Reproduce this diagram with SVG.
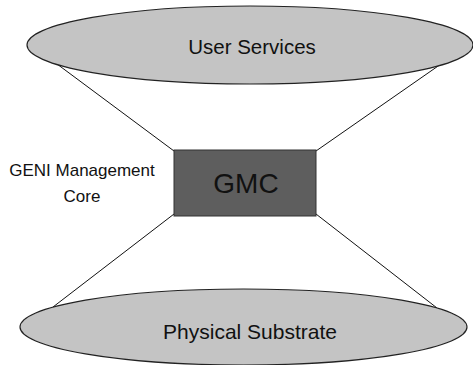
<svg xmlns="http://www.w3.org/2000/svg" width="473" height="365" viewBox="0 0 473 365">
<style>
.ell{fill:#c4c4c4;stroke:#222;stroke-width:1.2}
.box{fill:#5e5e5e;stroke:#333;stroke-width:1}
.con{stroke:#111;stroke-width:1;fill:none}
text{font-family:"Liberation Sans",Arial,sans-serif;fill:#111}
</style>
<rect width="473" height="365" fill="#fff"/>
<g id="connectors">
<line class="con" x1="57" y1="64" x2="174" y2="151"/>
<line class="con" x1="441" y1="64" x2="316" y2="151"/>
<line class="con" x1="174" y1="214" x2="53" y2="307"/>
<line class="con" x1="316" y1="214" x2="437" y2="308"/>
</g>
<g id="user-services">
<ellipse class="ell" cx="250" cy="45" rx="223" ry="39"/>
<text x="252" y="54" font-size="20.5" text-anchor="middle">User Services</text>
</g>
<g id="gmc">
<rect class="box" x="174" y="150" width="142" height="66"/>
<text x="246" y="193" font-size="28" text-anchor="middle">GMC</text>
</g>
<g id="gmc-label">
<text x="82" y="176" font-size="17" text-anchor="middle">GENI Management</text>
<text x="82" y="202" font-size="17" text-anchor="middle">Core</text>
</g>
<g id="physical-substrate">
<ellipse class="ell" cx="243.5" cy="327" rx="223.5" ry="38"/>
<text x="250" y="339" font-size="21" text-anchor="middle">Physical Substrate</text>
</g>
</svg>
